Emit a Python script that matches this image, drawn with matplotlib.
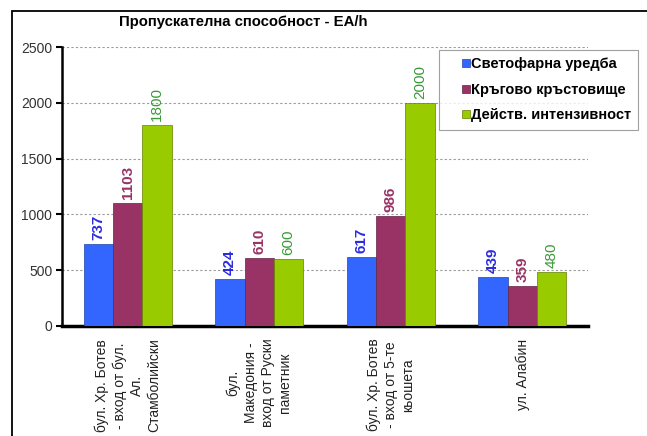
import matplotlib

matplotlib.use("Agg")
import matplotlib.pyplot as plt
import numpy as np
from matplotlib.lines import Line2D
from matplotlib.patches import Rectangle


CATEGORIES = [
    "бул. Хр. Ботев\n- вход от бул.\nАл.\nСтамболийски",
    "бул.\nМакедония -\nвход от Руски\nпаметник",
    "бул. Хр. Ботев\n- вход от 5-те\nкьошета",
    "ул. Алабин",
]
SERIES_NAMES = ["Светофарна уредба", "Кръгово кръстовище", "Действ. интензивност"]
SIGNAL = [737, 424, 617, 439]
ROUNDABOUT = [1103, 610, 986, 359]
INTENSITY = [1800, 600, 2000, 480]
Y_TICKS = [0, 500, 1000, 1500, 2000, 2500]

BAR_COLORS = ["#3366FF", "#993366", "#99CC00"]
EDGE_COLORS = ["#2244AA", "#662244", "#667F00"]
LABEL_COLORS = ["#2B2BE0", "#993366", "#3A9A3A"]
LABEL_WEIGHTS = ["bold", "bold", "normal"]


def main() -> None:
    plt.rcParams.update(
        {
            "font.family": ["Liberation Sans", "DejaVu Sans"],
            "font.size": 10,
        }
    )

    fig = plt.figure(figsize=(6.47, 4.36), dpi=100)
    ax = fig.add_axes([0.0958, 0.2523, 0.8132, 0.6397])

    x = np.arange(len(CATEGORIES))
    width = 0.223
    series = [SIGNAL, ROUNDABOUT, INTENSITY]
    for i, values in enumerate(series):
        bars = ax.bar(
            x + (i - 1) * width,
            values,
            width,
            color=BAR_COLORS[i],
            edgecolor=EDGE_COLORS[i],
            linewidth=0.5,
            zorder=3,
        )
        for bar, v in zip(bars, values):
            ax.annotate(
                str(v),
                (bar.get_x() + bar.get_width() / 2, v),
                xytext=(0, 3),
                textcoords="offset points",
                rotation=90,
                ha="center",
                va="bottom",
                fontsize=11,
                color=LABEL_COLORS[i],
                fontweight=LABEL_WEIGHTS[i],
                zorder=4,
            )

    ax.set_xlim(-0.5, 3.5)
    ax.set_ylim(0, 2500)
    ax.set_yticks(Y_TICKS)
    ax.set_yticklabels([str(t) for t in Y_TICKS], color="#333333", fontsize=10)
    ax.set_xticks(x)
    ax.set_xticklabels(CATEGORIES, rotation=90, fontsize=10, color="#222222",
                       ha="center", va="top", multialignment="center", linespacing=1.3)
    ax.tick_params(axis="x", length=0, pad=9)
    ax.tick_params(axis="y", direction="out", length=4, width=1.5, pad=3)

    ax.yaxis.grid(True, color="#999999", linestyle=(0, (2, 2)), linewidth=0.8, zorder=0)
    ax.set_axisbelow(True)
    for side in ["top", "right"]:
        ax.spines[side].set_visible(False)
    ax.spines["left"].set_linewidth(1.8)
    ax.spines["bottom"].set_linewidth(2.5)

    fig.text(0.3756, 0.95, "Пропускателна способност - EA/h", ha="center", va="center",
             fontsize=10.7, fontweight="bold")

    handles = [
        Line2D([], [], linestyle="none", marker="s", markersize=5.3,
               markerfacecolor=BAR_COLORS[i], markeredgecolor=EDGE_COLORS[i], markeredgewidth=0.5)
        for i in range(3)
    ]
    leg = fig.legend(
        handles,
        SERIES_NAMES,
        loc="upper left",
        bbox_to_anchor=(0.6785, 0.885),
        borderaxespad=0,
        borderpad=0.5,
        handlelength=2.7,
        handletextpad=-1.0,
        labelspacing=0.79,
        fancybox=False,
        edgecolor="#888888",
        prop={"weight": "bold", "size": 10.5},
    )
    leg.get_frame().set_linewidth(0.8)

    fig.patches.append(
        Rectangle((0.0185, -0.05), 1.1, 0.9748 + 0.05, transform=fig.transFigure,
                  fill=False, edgecolor="black", linewidth=1.3)
    )

    fig.savefig("out.png", dpi=100)
    plt.close(fig)


if __name__ == "__main__":
    main()
